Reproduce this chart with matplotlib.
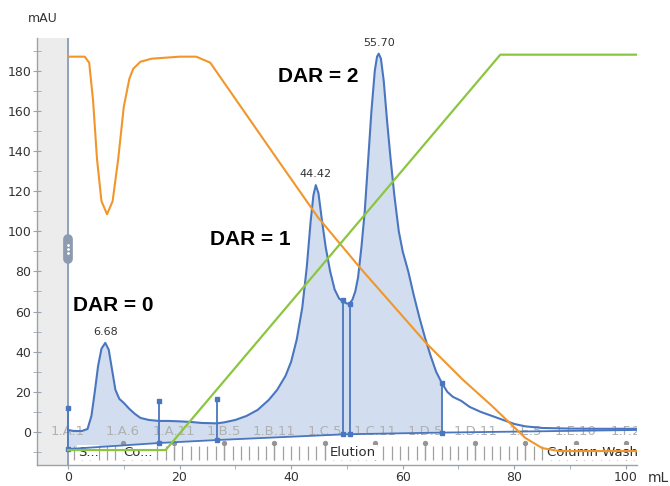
import numpy as np
import matplotlib
matplotlib.use("Agg")
import matplotlib.pyplot as plt

# UV 280 trace (mL, mAU)
uv_ml = [0, 1, 2.5, 3.5, 4.2, 4.8, 5.4, 6, 6.68, 7.3, 7.9, 8.5, 9.2, 10, 11, 12, 13, 14.5,
         16.3, 18, 20, 22, 24, 26.7, 28, 30, 32, 34, 36, 37.5, 39, 40, 41, 42, 42.8, 43.5,
         44, 44.42, 44.9, 45.5, 46.2, 47, 47.8, 48.6, 49.3, 50, 50.5, 51, 51.5, 52, 52.6,
         53.2, 53.8, 54.4, 55, 55.4, 55.7, 56.1, 56.6, 57.2, 57.8, 58.5, 59.3, 60, 61, 62,
         63, 64, 65, 66, 67, 68, 69, 70.5, 72, 74, 76, 78, 80, 82, 85, 90, 95, 102]
uv_mau = [1, 0.5, 0.5, 1.5, 8, 20, 33, 41.5, 44.4, 41, 31, 21, 16.5, 14.5, 11.5, 9, 7, 6,
          5.5, 5.5, 5.3, 5, 4.5, 4.3, 4.8, 6, 8, 11, 16, 21, 28, 35, 46, 62, 82, 105,
          118, 123, 119, 106, 92, 80, 71, 66.5, 65, 64, 64, 66, 70, 77, 92,
          110, 135, 160, 180, 187, 188.5, 186, 175, 155, 137, 118, 100, 90, 80, 68,
          57, 47, 38, 30, 24.5, 20, 17.5, 15.5, 12.5, 10, 8, 6, 4, 2.8, 2.0, 1.7, 1.6, 1.6]

# peak baseline and integration boundaries
base_ml = [0, 16.3, 26.7, 49.3, 50.5, 67, 102]
base_mau = [-8.5, -5.5, -4, -1.2, -1.1, -0.3, 1]
drop_ml = [0, 16.3, 26.7, 49.3, 50.5, 67]
drop_top = [12, 15.5, 16.5, 66, 64, 24.5]
drop_bot = [-8.5, -5.5, -4, -1.2, -1.1, -0.3]

# conductivity-like (orange) trace
cond_ml = [0, 3, 3.8, 4.5, 5.2, 6, 7, 8, 9, 10, 11, 11.7, 13, 15, 20, 23, 25.5, 30, 38,
           44.8, 52.3, 64.3, 70.8, 76, 79, 82, 85, 88, 102]
cond_mau = [187, 187, 184, 165, 136, 115, 108.5, 115, 136, 162, 176, 181, 184.5, 186, 187,
            187, 184, 166, 134, 107, 82, 44, 26, 13, 5, -3, -8, -9.5, -9.5]

# gradient (green)
grad_ml = [0, 17.5, 77.5, 102]
grad_mau = [-9, -9, 188, 188]

peaks = [(6.68, 44.4, "6.68"), (44.42, 123, "44.42"), (55.70, 188.5, "55.70")]
dar_labels = [(8.1, 63, "DAR = 0"), (32.6, 96, "DAR = 1"), (44.8, 177, "DAR = 2")]

frac_names = ["1.A.1", "1.A.6", "1.A.11", "1.B.5", "1.B.11", "1.C.5", "1.C.11",
              "1.D.5", "1.D.11", "1.E.5", "1.E.10", "1.F.2"]
frac_pos = [0, 9.8, 19, 28, 37, 46, 55, 64, 73, 82, 91, 100]
phase_names = ["S...", "Co...", "Elution", "Column Wash"]
phase_pos = [1.8, 9.9, 47, 85.8]

BLUE = "#4a76c0"
FILL = "#d2deef"
ORANGE = "#f1962b"
GREEN = "#8cc63f"
XMIN, XMAX = -5.56, 102
YMIN, YMAX = -16.45, 196.4

fig = plt.figure(figsize=(6.7, 4.86), dpi=100)
ax = fig.add_axes([0.0552, 0.0432, 0.8955, 0.879])
ax.set_xlim(XMIN, XMAX)
ax.set_ylim(YMIN, YMAX)

# grey pre-injection zone
ax.axvspan(XMIN, 0, color="#ececec", zorder=0)
ax.axvline(0, color="#8196b4", lw=1.2, zorder=1)
ax.plot([0, 0], [86, 96], lw=7, color="#8c9bb0", solid_capstyle="round", zorder=2)
ax.plot([0, 0, 0], [89, 91, 93], ls="none", marker="o", ms=1, color="white", zorder=3)

# fill under UV between 0 and last drop line
uv_x = np.array(uv_ml)
uv_y = np.array(uv_mau)
sel = uv_x <= 67
bx = [b for b in base_ml if b <= 67]
by = base_mau[:len(bx)]
poly_x = list(uv_x[sel]) + bx[::-1]
poly_y = list(uv_y[sel]) + by[::-1]
ax.fill(poly_x, poly_y, color=FILL, lw=0, zorder=2)

# fraction comb
comb = np.arange(1, 102, 1.5)
ax.vlines(comb, -14, -7, color="#a0a0a0", lw=0.9, zorder=2)
ax.vlines(frac_pos[1:], -14, -5.5, color="#a0a0a0", lw=0.9, zorder=2)
ax.plot(frac_pos[1:], [-5.5] * len(frac_pos[1:]), ls="none", marker="o", ms=2.8,
        color="#959595", zorder=2)
for name, p in zip(frac_names, frac_pos):
    ax.text(p, 0, name, ha="center", va="center", fontsize=9.5, color="#b0b0b0",
            zorder=3, clip_on=True)
for name, p in zip(phase_names, phase_pos):
    ax.text(p, -10.2, name, ha="left", va="center", fontsize=9.5, color="#2e2e2e",
            zorder=4, clip_on=True,
            bbox=dict(facecolor="white", edgecolor="none", pad=0.5))

# baseline and drop lines
ax.plot(base_ml, base_mau, color=BLUE, lw=1.3, zorder=5)
ax.vlines(drop_ml, drop_bot, drop_top, color=BLUE, lw=1.3, zorder=5)
ax.plot(drop_ml, drop_top, ls="none", marker="s", ms=3.5, color=BLUE, zorder=5)
ax.plot(drop_ml, drop_bot, ls="none", marker="s", ms=3.5, color=BLUE, zorder=5)

ax.plot(uv_ml, uv_mau, color=BLUE, lw=1.5, zorder=6)
ax.plot(cond_ml, cond_mau, color=ORANGE, lw=1.5, zorder=7)
ax.plot(grad_ml, grad_mau, color=GREEN, lw=1.6, zorder=7)

for x, y, t in peaks:
    ax.text(x, y + 3, t, ha="center", va="bottom", fontsize=8, color="#333333", zorder=8)
for x, y, t in dar_labels:
    ax.text(x, y, t, ha="center", va="center", fontsize=15, fontweight="bold",
            family="Liberation Sans", color="black", zorder=8)

# axes styling
for s in ["top", "right"]:
    ax.spines[s].set_visible(False)
for s in ["left", "bottom"]:
    ax.spines[s].set_color("#9aa3ad")
    ax.spines[s].set_linewidth(1)
ax.set_xticks([0, 20, 40, 60, 80, 100])
ax.set_xticks([10, 30, 50, 70, 90], minor=True)
ax.set_yticks(range(0, 181, 20))
ax.set_yticks(range(-10, 191, 20), minor=True)
ax.tick_params(axis="y", which="both", direction="inout", length=6, color="#9aa3ad",
               labelsize=9, labelcolor="#333333", pad=1)
ax.tick_params(axis="x", which="both", direction="out", length=3, color="#9aa3ad",
               labelsize=9, labelcolor="#333333", pad=1.5)

fig.text(0.064, 0.962, "mAU", fontsize=9, color="#333333", ha="center", va="center")
fig.text(0.982, 0.016, "mL", fontsize=10, color="#333333", ha="center", va="center")

fig.savefig("out.png", dpi=100)
